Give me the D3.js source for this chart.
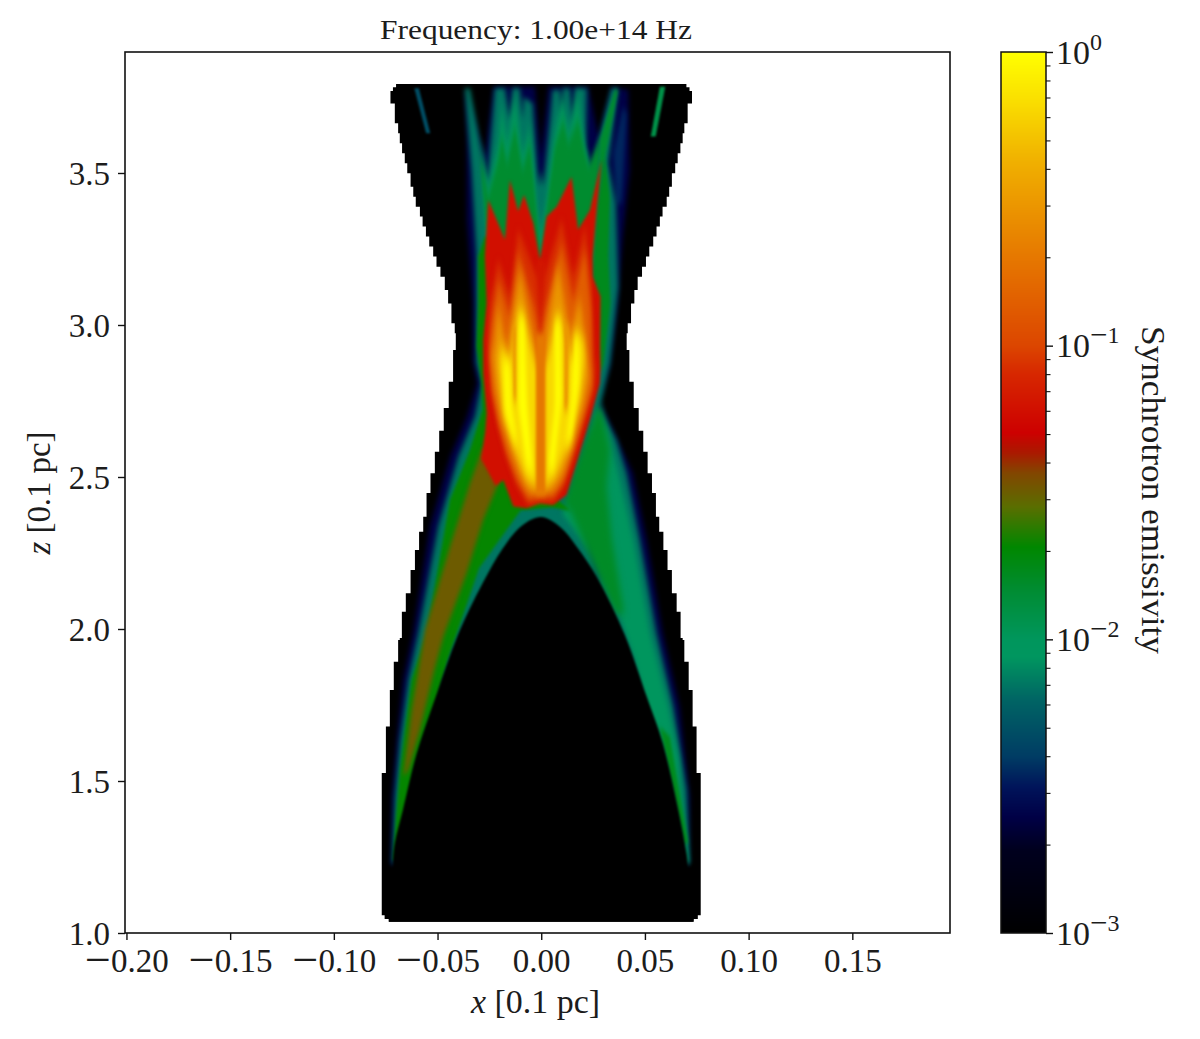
<!DOCTYPE html>
<html><head><meta charset="utf-8">
<script src="https://cdnjs.cloudflare.com/ajax/libs/d3/7.8.5/d3.min.js"></script>
<style>
html,body{margin:0;padding:0;background:#fff}
text{font-family:"Liberation Serif",serif;fill:#1c1c1c}
</style></head><body>
<svg id="chart" width="1200" height="1039"></svg>
<script>
// ---------- text and ticks ----------
const titleText = "Frequency: 1.00e+14 Hz";
const colorLabel = "Synchrotron emissivity";
const xTicks = [-0.20,-0.15,-0.10,-0.05,0,0.05,0.10,0.15];
const zTicks = [1.0,1.5,2.0,2.5,3.0,3.5];
const cbMajor = [1e-3,1e-2,1e-1,1];
const cbMinor = [2e-3,3e-3,4e-3,5e-3,6e-3,7e-3,8e-3,9e-3,2e-2,3e-2,4e-2,5e-2,6e-2,7e-2,8e-2,9e-2,.2,.3,.4,.5,.6,.7,.8,.9];

// ---------- colour map: log10(emissivity) -> colour ----------
const cmapLog = [-3,-2.717,-2.605,-2.503,-2.40,-2.207,-2.06,-2.0,-1.832,-1.686,-1.549,-1.434,-1.365,-1.297,-1.093,-1.0,-.698,-.378,-.153,0];
const cmapCol = ["#000000","#00001e","#000046","#00145a","#003c64","#006464","#00965f","#00965c","#008c32","#008700","#5a6e00","#824600","#aa1900","#cd0000","#d72800","#dc4600","#e67800","#f0af00","#fae100","#ffff00"];

// ---------- silhouette of the computational domain: z and half-width in x (units 1e-3) ----------
const outlineZ  = [1.037,1.046,1.058,1.526,1.679,1.799,1.892,1.964,1.970,2.057,2.118,2.194,2.260,2.320,2.369,2.447,2.512,2.583,2.652,2.727,2.813,2.918,2.973,3.006,3.071,3.115,3.159,3.192,3.225,3.258,3.291,3.324,3.357,3.389,3.422,3.455,3.499,3.532,3.565,3.598,3.631,3.664,3.729,3.770,3.782,3.793];
const outlineHW = [73.5,75.5,76.9,74.9,73.0,71.1,69.0,68.2,67.2,65.3,63.0,60.9,58.9,56.9,55.3,53.4,51.3,49.2,47.0,44.6,42.5,41.2,41.7,43.3,44.9,46.5,48.6,50.5,52.1,54.0,55.6,57.2,58.5,60.5,61.7,63.0,64.6,65.8,67.1,68.2,69.0,70.6,72.7,71.5,70.0,70.0];

// ---------- emissivity bands: [x (1e-3), z] outlines ----------
const bandNavy = [[-36.8,3.784],[-27.2,3.554],[-23.1,3.784],[-3,3.784],[-.3,3.554],[3.4,3.784],[22.7,3.784],[27.5,3.62],[33.9,3.784],[42,3.773],[42.7,3.51],[39.3,3.289],[36.9,3.072],[33,2.862],[28.2,2.753],[33,2.678],[44.2,2.513],[50.9,2.293],[58.6,1.987],[66.8,1.743],[71.6,1.447],[71.2,1.224],[-72.5,1.224],[-72,1.447],[-69.6,1.645],[-66.7,1.832],[-61.9,1.987],[-53.7,2.336],[-44,2.566],[-35.9,2.697],[-31,2.809],[-33,2.885],[-33,3.072],[-35.9,3.345],[-35.9,3.618]];
const streakFaint = [[34.7,3.565],[39.5,3.718],[41.2,3.696],[38.7,3.4],[36,3.4]];
const bandTeal = [[-36.8,3.779],[-34.4,3.779],[-26,3.47],[-22.3,3.779],[-17.5,3.779],[-15.1,3.675],[-13.8,3.779],[-10.3,3.779],[-9,3.675],[-8.3,3.751],[-4.2,3.729],[-1.4,3.455],[-.3,3.51],[1,3.455],[4.2,3.675],[5.5,3.773],[9,3.773],[10.3,3.675],[10.6,3.779],[13.8,3.779],[15.4,3.664],[16.2,3.779],[21.9,3.779],[21.5,3.587],[24.3,3.51],[33.9,3.779],[37.1,3.779],[32.3,3.532],[36,3.4],[37.1,3.126],[33.1,2.874],[28.3,2.732],[36.3,2.622],[41.2,2.512],[47.6,2.293],[55.6,1.986],[63.7,1.745],[70.1,1.471],[71.4,1.229],[-71.7,1.229],[-70.5,1.449],[-68.1,1.635],[-64.1,1.833],[-59.3,1.986],[-49.7,2.337],[-40,2.567],[-32,2.699],[-28.8,2.808],[-31.2,2.874],[-31.2,3.225],[-33.6,3.51]];
const bandRightWing = [[26.7,2.721],[32.3,2.644],[37.9,2.49],[44.4,2.293],[52.4,1.986],[61.2,1.745],[66.1,1.58],[70.9,1.229],[69,1.229],[60,1.5],[45,1.9],[30,2.2],[10,2.38],[20,2.5]];
const bandRightSliver = [[21,2.337],[24.3,2.304],[29.9,2.161],[26.7,2.161]];
const bandRightGreen = [[28.3,2.743],[33.1,2.589],[31.5,2.468],[34,2.3],[40,2.05],[36,2.05],[26,2.2],[13.8,2.392],[10.6,2.408],[17,2.545]];
const bandRightLower = [[57.2,1.679],[62,1.646],[70.9,1.295],[68.5,1.295]];
const bandLeftWing = [[-31.2,2.929],[-28.8,2.808],[-28.3,2.721],[-34.4,2.589],[-44,2.425],[-55.3,1.986],[-62.5,1.833],[-65.7,1.668],[-68.1,1.536],[-70,1.383],[-71.3,1.24],[-69,1.24],[-60,1.5],[-45,1.9],[-30,2.2],[-10,2.39],[5,2.40],[14,2.39],[-5,2.5],[-20,2.75],[-24,2.93],[-24,3.29],[-27.2,3.291],[-30.4,3.225],[-30.4,3.071]];
const bandFan = [[-29,3.6],[-25.5,3.45],[-20.7,3.6],[-19.1,3.73],[-16.4,3.6],[-12.7,3.76],[-9,3.56],[-5.5,3.66],[-2.2,3.4],[-.3,3.3],[2.6,3.42],[6.6,3.64],[10.6,3.76],[13,3.63],[17.8,3.77],[20.3,3.62],[22.7,3.53],[26,3.45],[26,3.2],[-26,3.2]];
const bandFanGreen = [[-29.6,3.554],[-25.5,3.422],[-20.7,3.543],[-19.1,3.62],[-16.4,3.532],[-12.7,3.653],[-9,3.51],[-5.5,3.598],[-2.2,3.367],[-.3,3.214],[2.6,3.378],[6.6,3.587],[10.6,3.675],[13,3.598],[17.8,3.675],[20.3,3.587],[22.7,3.521],[28.3,3.609],[26.7,3.378],[24.8,3.159],[28.3,2.852],[0,2.9],[-27,2.9],[-27,3.1],[-26,3.29]];
const streakDiag = [[28.3,3.609],[35.5,3.773],[37,3.773],[31.5,3.576],[26.7,3.378]];
const bandRightStrip = [[30.7,3.554],[33.1,3.422],[32.3,3.225],[33.4,3.071],[29.9,2.863],[27.5,2.852],[24.8,3.159],[26.7,3.378]];
const bandBrown = [[-28,2.6],[-20.7,2.48],[-28,2.359],[-36,2.183],[-47.2,1.975],[-52,1.854],[-58.5,1.668],[-64.1,1.536],[-66.5,1.515],[-62.5,1.734],[-56.1,1.997],[-44,2.271],[-34.4,2.479]];
const bandRed = [[-27.2,3.225],[-25.5,3.411],[-17.5,3.28],[-15.1,3.477],[-11.1,3.373],[-8.3,3.428],[-3.8,3.335],[-.6,3.214],[2.6,3.357],[7.4,3.389],[14.6,3.488],[17.8,3.313],[23.5,3.378],[29.1,3.543],[27,3.4],[24.8,3.225],[24.8,3.159],[28.6,3.093],[28.3,2.852],[29.1,2.929],[28.3,2.808],[23.5,2.688],[17,2.545],[12.2,2.441],[5.8,2.408],[-.6,2.414],[-7.1,2.397],[-13.5,2.403],[-18.3,2.49],[-22,2.47],[-29,2.56],[-27,2.65],[-26.3,2.71],[-28,2.841],[-28,2.951],[-26.3,3.071]];
const bandScarlet = [[-24.7,3.071],[-20.7,3.214],[-15.1,3.093],[-11.1,3.313],[-2.2,3.159],[-.3,2.984],[1.8,3.159],[9.8,3.346],[15.4,3.159],[21.1,3.324],[24.3,3.126],[25.1,2.852],[26.7,2.896],[25.1,2.797],[20.3,2.688],[15.4,2.578],[10.6,2.48],[5.8,2.436],[-.6,2.436],[-6.3,2.425],[-11.9,2.49],[-16.7,2.578],[-20.7,2.677],[-23.9,2.787],[-25.5,2.951]];
const bandOrange = [[-24,3.0],[-20.7,3.15],[-15.1,3.03],[-11.1,3.24],[-3,3.05],[-.3,2.93],[2,3.05],[9.8,3.27],[15.4,3.08],[21.1,3.25],[24,3.05],[24.8,2.83],[25,2.797],[20.3,2.688],[15.4,2.578],[10.6,2.48],[5.8,2.436],[-.6,2.436],[-6.3,2.425],[-11.9,2.49],[-16.7,2.578],[-20.7,2.677],[-23.9,2.787],[-25,2.9]];
const bandAmber = [[-23.9,2.852],[-20.7,3.071],[-16.7,2.907],[-10.3,3.181],[-3.8,2.962],[-.3,2.852],[1.8,2.962],[8.2,3.203],[13.8,2.962],[18.7,3.093],[21.9,2.907],[22.7,2.852],[23.5,2.841],[20.3,2.732],[15.4,2.611],[10.6,2.512],[5.8,2.458],[-5.5,2.452],[-10.3,2.512],[-15.1,2.6],[-19.1,2.688],[-22.3,2.797],[-23.9,2.951]];
const bandGold = [[-20.7,2.885],[-18.3,2.71],[-11.9,2.578],[-7.1,2.49],[-2.2,2.469],[2.6,2.469],[7.4,2.512],[13.8,2.622],[18.7,2.754],[21.1,2.885],[20.3,2.962],[17.8,2.962],[15.4,2.874],[8.2,3.05],[2.6,2.874],[-3,2.874],[-10.3,3.072],[-15.1,2.874],[-19.1,2.94]];
const laneA = [[-18.3,2.885],[-15.4,2.885],[-14.3,2.732],[-11.1,2.6],[-13.5,2.622],[-17.5,2.71]];
const laneB = [[-10.6,3.028],[-8.3,3.028],[-6.7,2.732],[-3.8,2.512],[-7.1,2.534],[-11.1,2.732]];
const laneC = [[6.6,3.017],[9,3.017],[9.8,2.754],[5.8,2.512],[3.4,2.534],[6.6,2.732]];
const laneD = [[15.8,2.973],[18.3,2.973],[18.3,2.819],[14.6,2.622],[11.4,2.589],[14.6,2.754]];
const gapLeft = [[-14,2.99],[-12,3.0],[-11.8,2.75],[-13.5,2.75]];
const gapRight = [[11,3.0],[13.5,3.0],[13,2.72],[10.8,2.72]];
const centreRed = [[-2.2,3.214],[1.8,3.214],[1.8,2.96],[-2.2,2.96]];
const centreOrange = [[-2.6,2.97],[2.1,2.97],[2.1,2.44],[-2.6,2.44]];
const streakLeft = [[-61.2,3.779],[-59,3.779],[-53.5,3.631],[-55.5,3.631]];
const streakRight = [[57.2,3.784],[59.8,3.784],[55.2,3.62],[52.8,3.62]];
const archBlack = [[-71.6,1.224],[-70.6,1.296],[-66.7,1.405],[-60,1.592],[-50.3,1.789],[-40.2,1.98],[-28.2,2.151],[-18.5,2.266],[-8.9,2.342],[0,2.368],[9,2.336],[17.2,2.27],[26.8,2.171],[40.3,1.98],[50.9,1.776],[58.6,1.625],[65.4,1.428],[69.2,1.296],[70.7,1.224],[70.7,1.0],[-71.6,1.0]];

// emissivity level of each band, painted from back to front; last two = blur in x and z
const layers = [
  [bandNavy,.0025,2.5,2.5],[streakFaint,.0035,2,3],[streakLeft,.0048,1.3,1.3],[streakRight,.012,1.3,1.3],
  [bandTeal,.007,2.6,2.6],[bandRightWing,.0092,2.5,2.5],[bandRightSliver,.0052,2,3],[bandFan,.0098,2,7],
  [bandFanGreen,.015,1.8,6],[streakDiag,.015,1.5,2],[bandRightStrip,.017,1.8,3],[bandRightGreen,.016,3,4],[bandRightLower,.017,1.6,2],
  [bandLeftWing,.021,1.8,1.8],[bandBrown,.032,2.2,2.2],
  [bandRed,.06,1.5,1.5],[centreRed,.065,1.5,2],[bandScarlet,.085,2,4],[bandOrange,.14,2,6],[bandAmber,.3,2.5,7],[bandGold,.65,2.5,7],
  [gapLeft,.3,1.8,5],[gapRight,.3,1.8,5],[laneA,.98,2,7],[laneB,1,2,7],[laneC,1,2,7],[laneD,.98,2,7],[centreOrange,.2,1.6,3]
];

// ---------- scales ----------
const x = d3.scaleLinear().domain([-0.2007,0.1971]).range([125,950]);
const z = d3.scaleLinear().domain([1.0,3.898]).range([933,52]);
const cb = d3.scaleLog().domain([1e-3,1]).range([933,52]);
const color = d3.scaleLinear().domain(cmapLog).range(cmapCol).clamp(true);
const colorOf = e => color(Math.log10(e));

const svg = d3.select("#chart");
const defs = svg.append("defs");
function blurFilter(id,bx,by){
  defs.append("filter").attr("id",id)
    .attr("filterUnits","userSpaceOnUse").attr("x",0).attr("y",0).attr("width",1200).attr("height",1039)
    .attr("color-interpolation-filters","sRGB")
    .append("feGaussianBlur").attr("stdDeviation",bx+" "+by);
  return `url(#${id})`;
}

const px = d=>x(d[0]/1000), pz = d=>z(d[1]);
const polyLine = d3.line().x(px).y(pz).curve(d3.curveLinearClosed);
const smoothLine = d3.line().x(px).y(pz).curve(d3.curveCatmullRomClosed);
const leftSide = outlineZ.map((v,i)=>[-outlineHW[i],v]);
const rightSide = outlineZ.map((v,i)=>[outlineHW[i],v]).reverse();
const silhouette = d3.line().x(px).y(pz).curve(d3.curveStepBefore)(leftSide)
  + "L" + d3.line().x(px).y(pz).curve(d3.curveStepAfter)(rightSide).slice(1) + "Z";

defs.append("clipPath").attr("id","sil").append("path").attr("d",silhouette);

// ---------- plot area ----------
svg.append("path").attr("d",silhouette).attr("fill","#000").attr("filter",blurFilter("bs",.6,.6));
const em = svg.append("g").attr("clip-path","url(#sil)");
layers.forEach(([pts,level,bx,by],i)=>{
  em.append("path").attr("d",polyLine(pts)).attr("fill",colorOf(level)).attr("filter",blurFilter("b"+i,bx,by));
});
em.append("path").attr("d",smoothLine(archBlack)).attr("fill","#000").attr("filter",blurFilter("ba",1.1,1.1));

// ---------- axes ----------
function fancyMinus(sel){
  sel.each(function(){
    const t=d3.select(this), s=t.text();
    if(s[0]==="\u2212"){
      t.text("");
      t.append("tspan").attr("font-size",46).attr("dy",3).text("\u2212");
      t.append("tspan").attr("dy",-3).text(s.slice(1));
    }
  });
}
const xAxis = d3.axisBottom(x).tickValues(xTicks).tickSize(7).tickPadding(6).tickFormat(d=>d3.format(".2f")(d).replace("-","\u2212"));
const gx = svg.append("g").attr("transform","translate(0,933)").call(xAxis);
const zAxis = d3.axisLeft(z).tickValues(zTicks).tickSize(7).tickPadding(8).tickFormat(d3.format(".1f"));
const gz = svg.append("g").attr("transform","translate(125,0)").call(zAxis);
[gx,gz].forEach(g=>{
  g.attr("font-family",null).attr("font-size",null);
  g.select(".domain").remove();
  g.selectAll("line").attr("stroke","#111").attr("stroke-width",1.4);
  g.selectAll("text").attr("font-size",33);
});
gx.selectAll("text").attr("dy",null).attr("y",39).call(fancyMinus);
gz.selectAll("text").attr("dy",".36em");
svg.append("rect").attr("x",125).attr("y",52).attr("width",825).attr("height",881)
  .attr("fill","none").attr("stroke","#111").attr("stroke-width",1.6);

// ---------- titles ----------
svg.append("text").attr("x",536).attr("y",39).attr("text-anchor","middle").attr("font-size",27)
  .attr("textLength",312).attr("lengthAdjust","spacingAndGlyphs").text(titleText);
const xl = svg.append("text").attr("x",535.5).attr("y",1013).attr("text-anchor","middle").attr("font-size",33)
  .attr("textLength",129).attr("lengthAdjust","spacingAndGlyphs");
xl.append("tspan").attr("font-style","italic").text("x");
xl.append("tspan").text(" [0.1 pc]");
const zl = svg.append("text").attr("transform","translate(50,493) rotate(-90)").attr("text-anchor","middle").attr("font-size",33)
  .attr("textLength",123).attr("lengthAdjust","spacingAndGlyphs");
zl.append("tspan").attr("font-style","italic").text("z");
zl.append("tspan").text(" [0.1 pc]");
svg.append("text").attr("transform","translate(1142,490) rotate(90)").attr("text-anchor","middle").attr("font-size",33)
  .attr("textLength",328).attr("lengthAdjust","spacingAndGlyphs").text(colorLabel);

// ---------- colour bar ----------
const cbg = svg.append("g").attr("shape-rendering","crispEdges");
d3.range(52,933).forEach(row=>{
  cbg.append("rect").attr("x",1001).attr("width",45).attr("y",row).attr("height",1)
    .attr("fill",colorOf(cb.invert(row+.5)));
});
svg.append("rect").attr("x",1001).attr("y",52).attr("width",45).attr("height",881)
  .attr("fill","none").attr("stroke","#111").attr("stroke-width",1.5);
svg.append("g").attr("transform","translate(1046,0)")
  .call(d3.axisRight(cb).tickValues(cbMinor).tickSize(4.5).tickFormat(""))
  .call(g=>{g.select(".domain").remove();g.selectAll("line").attr("stroke","#111").attr("stroke-width",1.1);});
const gm = svg.append("g").attr("transform","translate(1046,0)")
  .call(d3.axisRight(cb).tickValues(cbMajor).tickSize(7).tickFormat(""))
  .call(g=>{g.select(".domain").remove();g.selectAll("line").attr("stroke","#111").attr("stroke-width",1.4);});
gm.selectAll(".tick").each(function(d){
  const t = d3.select(this).append("text").attr("x",10).attr("y",11).attr("font-size",34);
  t.append("tspan").text("10");
  const p = Math.round(Math.log10(d));
  if(p<0){
    t.append("tspan").attr("font-size",31).attr("dy",-12).text("\u2212");
    t.append("tspan").attr("font-size",24).attr("dy",-2).text(String(-p));
  } else {
    t.append("tspan").attr("font-size",24).attr("dy",-14).text(String(p));
  }
});
</script>
</body></html>
